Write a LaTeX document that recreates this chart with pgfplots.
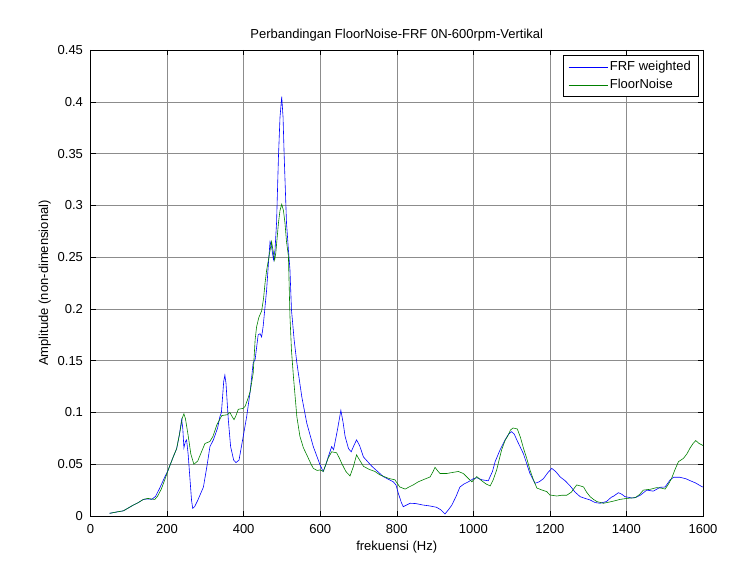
\documentclass[border=0pt]{standalone}
\usepackage{pgfplots}
\pgfplotsset{compat=1.18}
\usepackage{fontspec}
\setmainfont{Liberation Sans}
\definecolor{mblue}{rgb}{0,0,1}
\definecolor{mgreen}{rgb}{0,0.5,0}
\begin{document}
\begin{tikzpicture}
\begin{axis}[
  scale only axis, width=612.5pt, height=466pt,
  xmin=0, xmax=1600, ymin=0, ymax=0.45,
  xtick={0,200,400,600,800,1000,1200,1400,1600},
  ytick={0,0.05,0.1,0.15,0.2,0.25,0.3,0.35,0.4,0.45},
  yticklabels={0,0.05,0.1,0.15,0.2,0.25,0.3,0.35,0.4,0.45},
  xticklabels={0,200,400,600,800,1000,1200,1400,1600},
  grid=major, major grid style={black!45, line width=0.5pt},
  tick align=inside, major tick length=5pt,
  axis line style={line width=0.6pt},
  tick style={black, line width=0.5pt},
  ticklabel style={font=\fontsize{13}{15}\selectfont},
  xticklabel style={yshift=-5pt},
  yticklabel style={xshift=-4pt},
  label style={font=\fontsize{13}{15}\selectfont},
  title={Perbandingan FloorNoise-FRF 0N-600rpm-Vertikal},
  title style={font=\fontsize{13}{15}\selectfont, yshift=-1pt},
  xlabel={frekuensi (Hz)},
  ylabel={Amplitude (non-dimensional)},
  legend style={at={(rel axis cs:0.992,0.989)}, anchor=north east, line width=0.6pt,
    font=\fontsize{13}{15}\selectfont, cells={anchor=west}, row sep=3pt, inner xsep=5pt, inner ysep=4pt},
  legend image code/.code={\draw[#1] (0pt,0pt) -- (39pt,0pt);},
]
\addplot[color=mblue, draw=mblue, line width=0.6pt] coordinates {
(50,0.0026)(70,0.004)(86,0.005)(100,0.008)(112,0.0106)(125,0.013)(138,0.016)(150,0.0165)(160,0.016)(170,0.019)
(181,0.027)(192,0.036)(203,0.0445)(216,0.057)(225,0.065)(232,0.078)(238,0.093)(241,0.085)(244,0.066)(248,0.072)
(251,0.0735)(255,0.06)(260,0.035)(264,0.015)(267,0.0074)(272,0.009)(280,0.015)(295,0.028)(305,0.050)(312,0.067)
(321,0.0735)(332,0.085)(338,0.096)(342,0.100)(345,0.115)(348,0.130)(351,0.136)(354,0.128)(357,0.110)(360,0.093)
(366,0.067)(374,0.054)(380,0.0516)(388,0.054)(399,0.077)(408,0.096)(417,0.120)(425,0.148)(430,0.151)(438,0.175)
(443,0.176)(447,0.173)(451,0.183)(460,0.218)(465,0.245)(469,0.265)(473,0.26)(478,0.2476)(482,0.257)(486,0.283)
(491,0.347)(495,0.385)(499.5,0.405)(503,0.385)(506,0.347)(512,0.283)(517,0.257)(521,0.238)(525,0.199)(532,0.17)
(539,0.148)(552,0.115)(565,0.0896)(582,0.067)(600,0.049)(608,0.043)(615,0.05)(621,0.057)(630,0.067)(635,0.064)
(645,0.083)(654,0.102)(660,0.09)(665,0.077)(674,0.065)(681,0.062)(688,0.068)(695,0.0735)(703,0.068)(713,0.057)
(735,0.048)(765,0.038)(791,0.033)(798,0.030)(804,0.022)(812,0.013)(817,0.009)(825,0.0105)(835,0.0123)(850,0.012)
(870,0.0105)(885,0.0098)(904,0.0084)(915,0.006)(926,0.002)(935,0.006)(944,0.0106)(955,0.019)(965,0.028)(976,0.031)
(987,0.033)(1000,0.036)(1009,0.037)(1022,0.035)(1039,0.034)(1050,0.043)(1057,0.0525)(1070,0.064)(1083,0.0735)(1092,0.079)
(1100,0.0815)(1107,0.079)(1113,0.074)(1131,0.060)(1148,0.041)(1161,0.0316)(1172,0.033)(1183,0.036)(1195,0.042)(1205,0.046)
(1215,0.043)(1227,0.0377)(1240,0.034)(1253,0.029)(1266,0.023)(1279,0.0187)(1292,0.017)(1305,0.0155)(1318,0.013)(1331,0.0123)
(1348,0.014)(1360,0.018)(1367,0.0193)(1379,0.0225)(1388,0.021)(1396,0.0187)(1414,0.0174)(1425,0.018)(1436,0.020)(1453,0.025)
(1470,0.024)(1488,0.0277)(1501,0.028)(1514,0.0348)(1523,0.0374)(1540,0.0374)(1555,0.036)(1566,0.0342)(1580,0.032)(1597,0.0284)
(1600,0.028)
};
\addlegendentry{FRF weighted}
\addplot[color=mgreen, draw=mgreen, line width=0.6pt] coordinates {
(50,0.0026)(70,0.004)(86,0.005)(100,0.008)(112,0.0106)(125,0.013)(138,0.016)(150,0.017)(158,0.0165)(168,0.016)
(175,0.019)(185,0.026)(195,0.036)(203,0.0445)(216,0.057)(225,0.065)(233,0.08)(240,0.095)(244,0.0986)(248,0.094)
(255,0.078)(262,0.06)(270,0.050)(280,0.053)(290,0.062)(299,0.070)(312,0.072)(320,0.077)(330,0.088)(343,0.097)
(356,0.0977)(364,0.100)(370,0.096)(375,0.093)(380,0.097)(386,0.103)(399,0.104)(404,0.106)(410,0.112)(417,0.120)
(425,0.138)(430,0.17)(434,0.183)(440,0.192)(447,0.198)(452,0.21)(456,0.225)(460,0.237)(466,0.25)(473,0.265)
(477,0.256)(481,0.247)(484,0.254)(491,0.283)(495,0.295)(499.5,0.301)(504,0.295)(508,0.283)(512,0.265)(517,0.251)
(521,0.193)(525,0.16)(530,0.135)(539,0.096)(547,0.077)(556,0.066)(565,0.059)(575,0.051)(582,0.046)(592,0.044)
(600,0.0445)(608,0.043)(615,0.05)(621,0.056)(630,0.062)(643,0.061)(650,0.056)(656,0.051)(667,0.043)(678,0.0387)
(687,0.048)(695,0.059)(703,0.054)(713,0.048)(728,0.045)(743,0.043)(756,0.0397)(774,0.037)(782,0.036)(795,0.035)
(808,0.028)(822,0.026)(832,0.028)(843,0.030)(856,0.033)(869,0.035)(887,0.0377)(895,0.043)(900,0.047)(906,0.044)
(913,0.041)(930,0.041)(945,0.042)(961,0.043)(974,0.041)(985,0.037)(996,0.033)(1009,0.038)(1022,0.034)(1033,0.031)
(1044,0.029)(1052,0.035)(1061,0.0445)(1074,0.064)(1083,0.073)(1091,0.078)(1097,0.083)(1104,0.085)(1115,0.084)(1123,0.076)
(1131,0.0655)(1140,0.055)(1148,0.0445)(1157,0.035)(1166,0.027)(1180,0.025)(1192,0.0235)(1200,0.0203)(1218,0.0193)(1230,0.020)
(1244,0.020)(1256,0.023)(1262,0.026)(1270,0.030)(1280,0.029)(1288,0.028)(1296,0.023)(1305,0.0187)(1314,0.016)(1323,0.0139)
(1340,0.0123)(1362,0.014)(1383,0.016)(1401,0.017)(1423,0.0177)(1435,0.021)(1444,0.025)(1462,0.0258)(1479,0.0274)(1490,0.027)
(1501,0.026)(1510,0.031)(1518,0.0364)(1527,0.045)(1536,0.0525)(1549,0.0557)(1558,0.060)(1566,0.0655)(1574,0.070)(1581,0.0728)
(1590,0.070)(1597,0.0687)(1600,0.068)
};
\addlegendentry{FloorNoise}
\end{axis}
\pgfresetboundingbox
\path[use as bounding box] ([xshift=-90.5pt,yshift=-65pt]current axis.south west) rectangle ([xshift=51pt,yshift=50pt]current axis.north east);
\end{tikzpicture}
\end{document}
